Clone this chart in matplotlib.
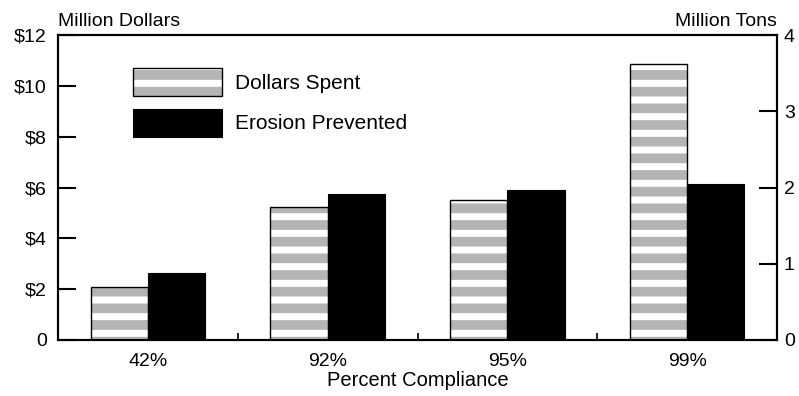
import matplotlib
matplotlib.use("Agg")
import matplotlib.pyplot as plt
import numpy as np
from matplotlib.legend_handler import HandlerTuple

plt.rcParams['font.family'] = ['Liberation Sans', 'DejaVu Sans']

categories = ["42%", "92%", "95%", "99%"]
dollars_spent = [2.10, 5.22, 5.51, 10.86]      # million dollars (left axis)
erosion_prevented = [0.88, 1.91, 1.97, 2.05]   # million tons (right axis)
left_ticks = [0, 2, 4, 6, 8, 10, 12]
left_labels = ["0", "$2", "$4", "$6", "$8", "$10", "$12"]
right_ticks = [0, 1, 2, 3, 4]

fig = plt.figure(figsize=(7.99, 3.96), dpi=100)
ax = fig.add_axes([58/799, 1-340/396, (777-58)/799, (340-35)/396])
ax2 = ax.twinx()

x = np.arange(len(categories))
w = 0.318

plt.rcParams['hatch.linewidth'] = 7.0
hb = ax.bar(x - w/2, dollars_spent, w, color='white', edgecolor='#b4b4b4',
            hatch='-', linewidth=0, zorder=2)
ob = ax.bar(x - w/2, dollars_spent, w, fill=False, edgecolor='black',
            linewidth=1.0, zorder=3)
eb = ax2.bar(x + w/2, erosion_prevented, w, color='black', edgecolor='black',
             linewidth=0.8, zorder=2)

ax.set_xlim(-0.5, 3.5)
ax.set_ylim(0, 12)
ax2.set_ylim(0, 4)

ax.set_yticks(left_ticks)
ax.set_yticklabels(left_labels)
ax2.set_yticks(right_ticks)
ax.set_xticks(x)
ax.set_xticklabels(categories)
ax.set_xticks([0.5, 1.5, 2.5], minor=True)

ax.tick_params(axis='y', direction='in', length=13, width=1.5, labelsize=14, pad=8)
ax2.tick_params(axis='y', direction='in', length=13, width=1.5, labelsize=14, pad=5)
ax.tick_params(axis='x', which='major', length=0, labelsize=14, pad=9)
ax.tick_params(axis='x', which='minor', direction='in', length=5, width=1.2)

for a in (ax, ax2):
    for s in a.spines.values():
        s.set_linewidth(1.5)

ax.set_xlabel("Percent Compliance", fontsize=14.5, labelpad=1)
fig.text(58/799, 1-22/396, "Million Dollars", fontsize=14, ha='left', va='center')
fig.text(777/799, 1-22/396, "Million Tons", fontsize=14, ha='right', va='center')

leg = ax.legend([(hb, ob), eb], ["Dollars Spent", "Erosion Prevented"],
                handler_map={tuple: HandlerTuple(ndivide=1, pad=0)},
                loc='upper left', bbox_to_anchor=(0.104, 0.892),
                frameon=False, fontsize=15, handlelength=4.28, handleheight=1.7,
                labelspacing=0.6, handletextpad=0.62, borderpad=0, borderaxespad=0)

fig.savefig("out.png", dpi=100)
